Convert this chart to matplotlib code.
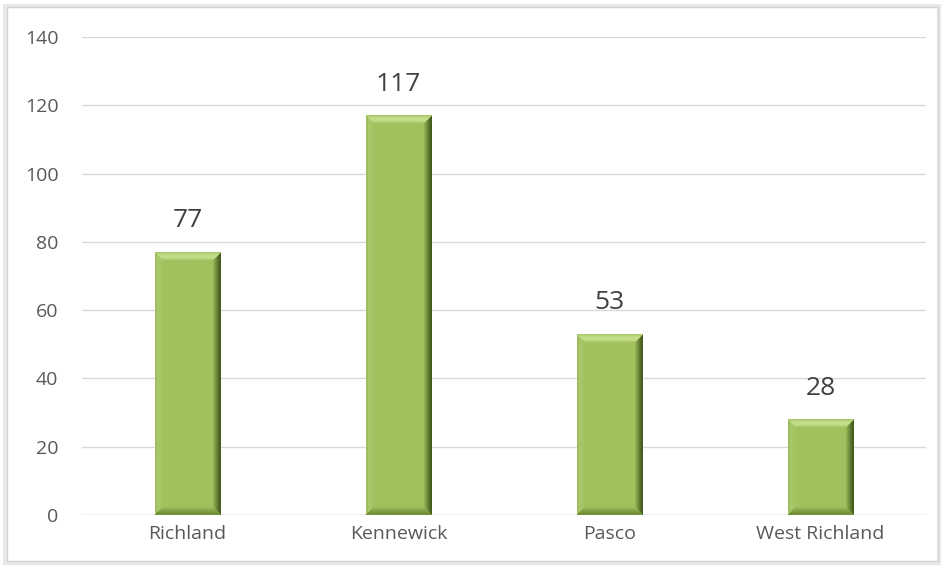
import matplotlib
matplotlib.use("Agg")
import matplotlib.pyplot as plt
from matplotlib.patches import Rectangle
import numpy as np

categories = ["Richland", "Kennewick", "Pasco", "West Richland"]
values = [77, 117, 53, 28]
yticks = [0, 20, 40, 60, 80, 100, 120, 140]

W, H = 941, 566
fig = plt.figure(figsize=(W / 100, H / 100), dpi=100)
fig.patch.set_facecolor("white")

# outer chart frame with light shadow
fig.add_artist(Rectangle((5 / W, 1 - 563 / H), 934 / W, 557 / H, transform=fig.transFigure,
                         facecolor="none", edgecolor="#e8e8e8", linewidth=3, zorder=0))
fig.add_artist(Rectangle((7 / W, 1 - 561 / H), 931 / W, 554 / H, transform=fig.transFigure,
                         facecolor="none", edgecolor="#d4d4d4", linewidth=1, zorder=0))

ax = fig.add_axes([82 / W, 1 - 515 / H, (926 - 82) / W, (515 - 37) / H])
ax.set_xlim(-0.5, len(categories) - 0.5)
ax.set_ylim(0, 140)
for s in ax.spines.values():
    s.set_visible(False)
ax.set_yticks(yticks)
ax.yaxis.grid(True, color="#d9d9d9", linewidth=1)
ax.set_axisbelow(True)
ax.tick_params(axis="both", length=0, labelsize=14, labelcolor="#595959")
ax.tick_params(axis="x", pad=7)
ax.tick_params(axis="y", pad=17)
x = np.arange(len(categories))
ax.set_xticks(x)
ax.set_xticklabels(categories, fontfamily="Open Sans")
for lab in ax.get_yticklabels():
    lab.set_fontfamily("Open Sans")
ax.axhline(0, color="#d9d9d9", linewidth=1, zorder=1)

bw = 0.31
base = np.array([160, 194, 94]) / 255.0
light = np.array([196, 222, 140]) / 255.0
dark = np.array([70, 94, 30]) / 255.0
midd = np.array([115, 146, 56]) / 255.0

fig.canvas.draw()
px_x = ax.transData.transform((1, 0))[0] - ax.transData.transform((0, 0))[0]
px_y = ax.transData.transform((0, 1))[1] - ax.transData.transform((0, 0))[1]


def bevel_image(wpx, hpx, b=8):
    i = np.arange(hpx)[:, None] * np.ones((1, wpx))
    j = np.ones((hpx, 1)) * np.arange(wpx)[None, :]
    dt, db = i, hpx - 1 - i
    dl, dr = j, wpx - 1 - j
    img = np.ones((hpx, wpx, 3)) * base
    d = np.stack([dt, db, dl, dr])
    which = np.argmin(d, axis=0)
    dmin = np.min(d, axis=0)
    f = np.clip(1 - dmin / b, 0, 1)[..., None]
    # top highlight (lighter, peak inside the bevel)
    prof_top = np.sin(np.pi * np.clip(1 - f, 0, 1) * 0.9 + 0.25)
    top = base + (light - base) * np.clip(prof_top, 0, 1)
    left = base + (light - base) * 0.35 * f - 0.05 * (f > 0.85)
    right = base + (dark - base) * np.clip(f * 1.1, 0, 1)
    bottom = base + (midd - base) * np.clip(f * 1.2, 0, 1)
    out = np.where((which == 0)[..., None] & (f > 0), top, img)
    out = np.where((which == 1)[..., None] & (f > 0), bottom, out)
    out = np.where((which == 2)[..., None] & (f > 0), left, out)
    out = np.where((which == 3)[..., None] & (f > 0), right, out)
    return np.clip(out, 0, 1)


for xi, v in zip(x, values):
    l, r = xi - bw / 2, xi + bw / 2
    wpx = int(round(bw * px_x))
    hpx = max(int(round(v * px_y)), 2)
    img = bevel_image(wpx, hpx)
    ax.imshow(img, extent=(l, r, 0, v), aspect="auto", interpolation="bilinear",
              zorder=3, origin="upper")
    ax.text(xi, v + 5.5, str(v), ha="center", va="bottom", fontsize=19, color="#404040",
            fontfamily="Open Sans")

ax.set_xlim(-0.5, len(categories) - 0.5)
ax.set_ylim(0, 140)
fig.savefig("out.png", dpi=100)
